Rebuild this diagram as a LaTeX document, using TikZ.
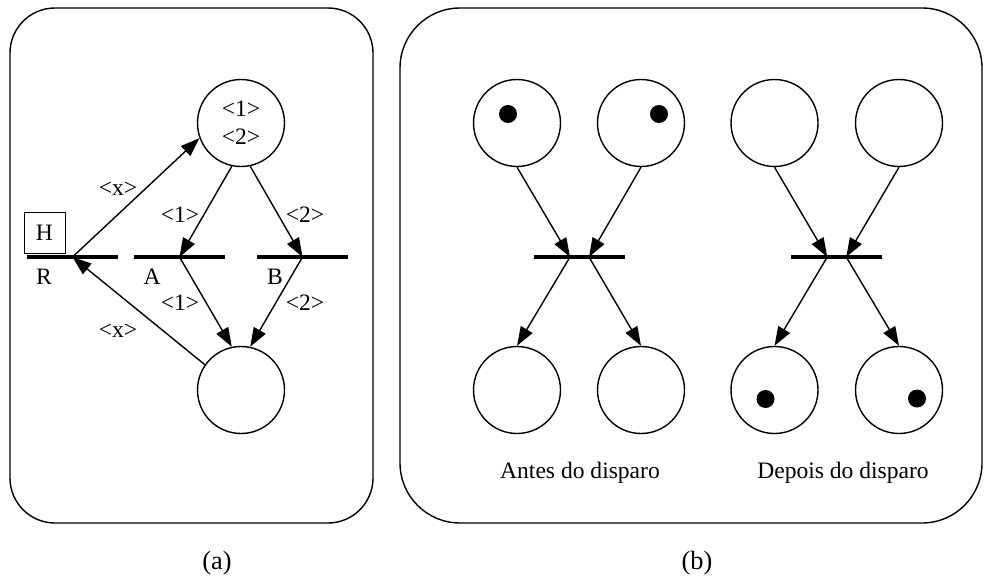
\documentclass[tikz,border=0pt]{standalone}
\usepackage{fontspec}
\setmainfont{Liberation Serif}
\usetikzlibrary{arrows.meta, positioning, calc}

\begin{document}
\begin{tikzpicture}[
  every node/.style={font=\fontsize{13.4}{16}\selectfont},
  place/.style={circle, draw, thick, minimum size=1.74cm, inner sep=0pt, align=center},
  trans/.style={rectangle, fill=black, minimum width=1.82cm, minimum height=2.1pt, inner sep=0pt},
  token/.style={circle, fill=black, minimum size=0.36cm, inner sep=0pt},
  arc/.style={-{Triangle[length=0.38cm,width=0.27cm]}, thick},
  caption/.style={font=\fontsize{15}{18}\selectfont},
]
  \useasboundingbox (0,0) rectangle (19.7,11.54);

  % moldura das duas partes
  \draw[thick, rounded corners=0.9cm] (0.2,1.08) rectangle (7.46,11.38);
  \draw[thick, rounded corners=1.2cm] (8.0,1.08) rectangle (19.64,11.38);

  % (a) rede com cores
  \node[place] (P1) at (4.82,9.08) {<1>\\<2>};
  \node[place] (P2) at (4.82,3.74) {};
  \node[trans] (R) at (1.45,6.4) {};
  \node[trans] (A) at (3.59,6.4) {};
  \node[trans] (B) at (6.05,6.4) {};
  \node[rectangle,draw,minimum size=0.82cm,inner sep=0pt] (H) at (0.89,6.89) {H};
  \node (Rlab) at (0.88,6.0) {R};
  \node (Alab) at (3.04,6.0) {A};
  \node (Blab) at (5.5,6.0) {B};

  \draw[arc] (R.center) -- (P1.200);
  \draw[arc] (P1.258) -- (A.center);
  \draw[arc] (P1.282) -- (B.center);
  \draw[arc] (A.center) -- (P2.102);
  \draw[arc] (B.center) -- (P2.78);
  \draw[arc] (P2.145) -- (R.center);

  \node (xup) at (2.36,7.76) {<x>};
  \node (1up) at (3.6,7.24) {<1>};
  \node (2up) at (6.1,7.24) {<2>};
  \node (1dn) at (3.6,5.48) {<1>};
  \node (2dn) at (6.1,5.48) {<2>};
  \node (xdn) at (2.36,4.92) {<x>};

  \node[caption] (capa) at (4.34,0.28) {(a)};

  % (b) antes e depois do disparo
  \node[place] (Q1) at (10.34,9.08) {};
  \node[place] (Q2) at (12.82,9.08) {};
  \node[place] (Q3) at (15.49,9.08) {};
  \node[place] (Q4) at (17.98,9.08) {};
  \node[place] (S1) at (10.34,3.74) {};
  \node[place] (S2) at (12.82,3.74) {};
  \node[place] (S3) at (15.49,3.74) {};
  \node[place] (S4) at (17.98,3.74) {};
  \node[trans] (T1) at (11.59,6.4) {};
  \node[trans] (T2) at (16.735,6.4) {};

  \node[token] (k1) at ([shift={(-0.18,0.18)}]Q1.center) {};
  \node[token] (k2) at ([shift={(0.36,0.18)}]Q2.center) {};
  \node[token] (k3) at ([shift={(-0.18,-0.18)}]S3.center) {};
  \node[token] (k4) at ([shift={(0.36,-0.17)}]S4.center) {};

  \draw[arc] (Q1.south) -- ([xshift=-0.19cm]T1.center);
  \draw[arc] (Q2.south) -- ([xshift=0.19cm]T1.center);
  \draw[arc] ([xshift=-0.19cm]T1.center) -- (S1.north);
  \draw[arc] ([xshift=0.19cm]T1.center) -- (S2.north);
  \draw[arc] (Q3.south) -- ([xshift=-0.19cm]T2.center);
  \draw[arc] (Q4.south) -- ([xshift=0.19cm]T2.center);
  \draw[arc] ([xshift=-0.19cm]T2.center) -- (S3.north);
  \draw[arc] ([xshift=0.19cm]T2.center) -- (S4.north);

  \node (antes) at (11.6,2.09) {Antes do disparo};
  \node (depois) at (16.86,2.09) {Depois do disparo};

  \node[caption] (capb) at (13.94,0.28) {(b)};
\end{tikzpicture}
\end{document}
